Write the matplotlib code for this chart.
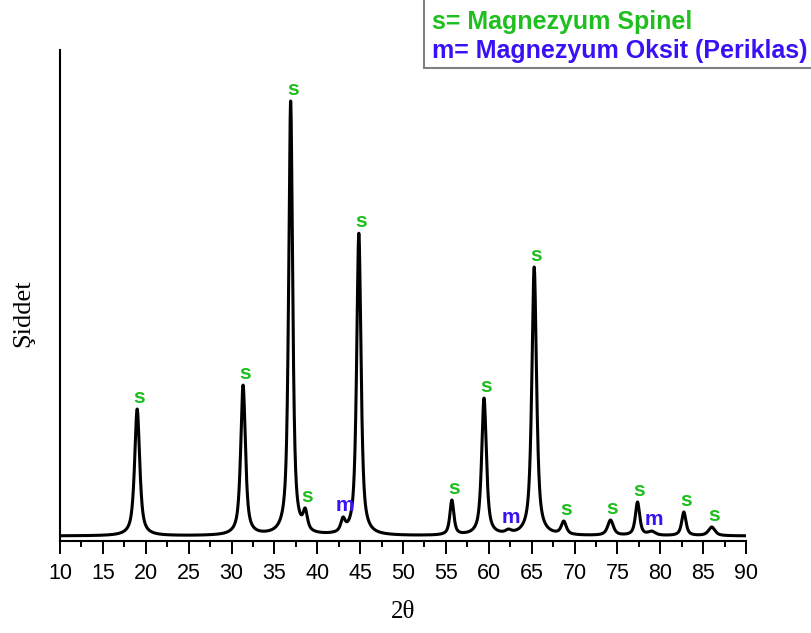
import numpy as np
import matplotlib.pyplot as plt
from matplotlib.patches import Rectangle

# Peak list: 2-theta position, observed intensity at the peak top (counts),
# FWHM (deg) and phase (s = spinel, m = periclase)
peak_pos = [19.0, 31.35, 36.9, 38.6, 43.0, 44.85, 55.7, 59.45, 62.3,
            65.3, 68.75, 74.2, 77.35, 79.0, 82.75, 86.0]
peak_int = [264, 312, 880, 66, 48, 616, 82, 286, 24,
            548, 40, 42, 78, 20, 58, 28]
peak_fwhm = [0.7, 0.65, 0.55, 0.6, 0.6, 0.6, 0.55, 0.65, 0.8,
             0.65, 0.7, 0.8, 0.6, 1.0, 0.6, 0.9]
phase = ['s', 's', 's', 's', 'm', 's', 's', 's', 'm',
         's', 's', 's', 's', 'm', 's', 's']
background = 10

x_ticks = [10, 15, 20, 25, 30, 35, 40, 45, 50, 55, 60, 65, 70, 75, 80, 85, 90]

GREEN = '#1fbf1f'
BLUE = '#3a10f5'


def pseudo_voigt(x, x0, fwhm, eta=0.75):
    hw = fwhm / 2.0
    lor = 1.0 / (1.0 + ((x - x0) / hw) ** 2)
    gau = np.exp(-np.log(2) * ((x - x0) / hw) ** 2)
    return eta * lor + (1 - eta) * gau


# scale the profiles so the summed pattern passes through the observed tops
pos = np.array(peak_pos)
K = np.array([[pseudo_voigt(p, q, w) for q, w in zip(pos, peak_fwhm)] for p in pos])
amps = np.linalg.solve(K, np.array(peak_int) - background)

tt = np.arange(10, 90.001, 0.02)
counts = np.full_like(tt, background, dtype=float)
for a, q, w in zip(amps, pos, peak_fwhm):
    counts += a * pseudo_voigt(tt, q, w)

W, H = 811, 633
fig = plt.figure(figsize=(W / 100, H / 100), dpi=100)
ax = fig.add_axes([60 / W, 1 - 541 / H, (746 - 60) / W, (541 - 50) / H])

ax.plot(tt, counts, color='black', lw=2.2)

for p, i, ph in zip(peak_pos, peak_int, phase):
    ax.annotate(ph, xy=(p, i), xytext=(1.5, 8.5), textcoords='offset points',
                ha='center', va='center', fontsize=15, fontweight='bold',
                family='Liberation Sans', color=GREEN if ph == 's' else BLUE)

ax.set_xlim(10, 90)
ax.set_ylim(0, 982)
ax.set_xticks(x_ticks)
ax.set_xticks(np.arange(12.5, 90, 5), minor=True)
ax.set_yticks([])
for side in ('top', 'right'):
    ax.spines[side].set_visible(False)
ax.spines['left'].set_linewidth(1.5)
ax.spines['bottom'].set_linewidth(1.5)
ax.tick_params(axis='x', which='major', direction='out', length=9, width=1.4,
               pad=7, labelsize=15.5)
ax.tick_params(axis='x', which='minor', direction='out', length=4.5, width=1.4)
for lab in ax.get_xticklabels():
    lab.set_family('Liberation Sans')

fig.text(403 / W, 1 - 612 / H, '2θ', ha='center', va='center',
         family='Liberation Serif', fontsize=18)
fig.text(23 / W, 1 - 313 / H, 'Şiddet', ha='center', va='center', rotation=90,
         family='Liberation Serif', fontsize=19)

# phase key in the top right corner
fig.patches.append(Rectangle((424 / W, 1 - 68 / H), (W + 5 - 424) / W, 70 / H,
                             transform=fig.transFigure, facecolor='white',
                             edgecolor='#808080', lw=1.5))
fig.text(432 / W, 1 - 22 / H, 's= Magnezyum Spinel', ha='left', va='center',
         family='Liberation Sans', fontweight='bold', fontsize=18, color=GREEN)
fig.text(432 / W, 1 - 51 / H, 'm= Magnezyum Oksit (Periklas)', ha='left',
         va='center', family='Liberation Sans', fontweight='bold',
         fontsize=18, color=BLUE)

fig.savefig('out.png', dpi=100)
